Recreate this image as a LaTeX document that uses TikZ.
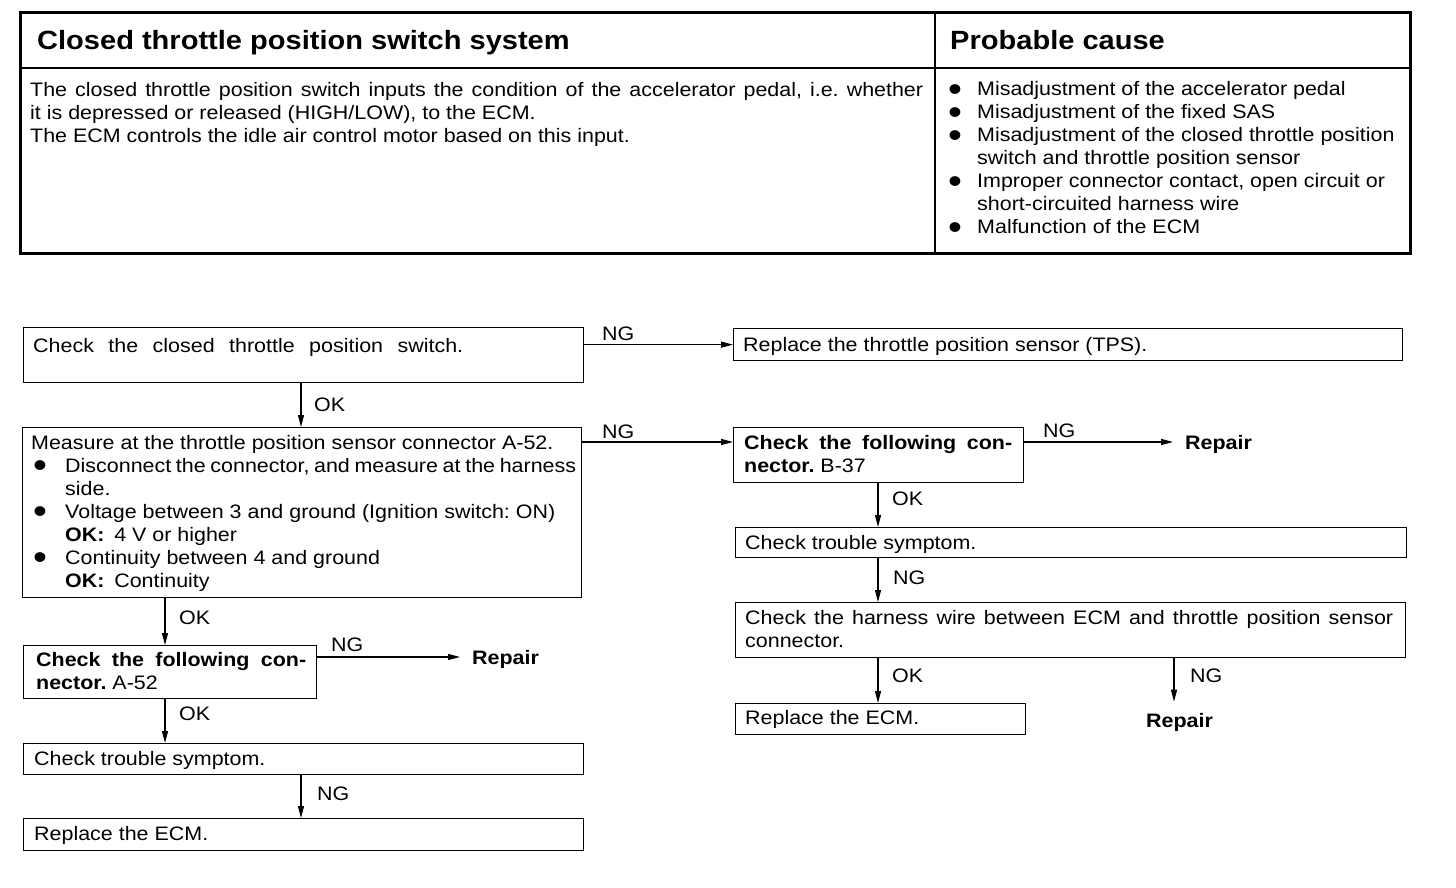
\documentclass[tikz,border=0pt]{standalone}
\usepackage{fontspec}
\setmainfont{Liberation Sans}[FakeStretch=1.1]
\usetikzlibrary{arrows.meta}
\newcommand{\bigbul}{\smash{\raisebox{-5.5pt}{\scalebox{1.85}{\textbullet}}}}
\newcommand{\bul}{\makebox[34pt][l]{\hspace{2pt}\bigbul}}
\newcommand{\ind}{\hspace*{34pt}}
\newcommand{\cbul}{\makebox[28pt][l]{\hspace{-1pt}\bigbul}}
\newcommand{\cind}{\hspace*{28pt}}
\begin{document}
\frenchspacing
\begin{tikzpicture}[x=1pt,y=-1pt,
  box/.style={draw, line width=1.3pt, rectangle, inner sep=0pt, anchor=north west},
  txt/.style={inner sep=0pt, anchor=base west, font=\fontsize{19.5}{23}\selectfont},
  btxt/.style={txt, font=\fontsize{19.5}{23}\selectfont\bfseries},
  ttl/.style={inner sep=0pt, anchor=base west, font=\fontsize{26.4}{30}\selectfont\bfseries},
  arr/.style={line width=1.2pt, -{Triangle[length=12pt,width=6pt]}},
]
\useasboundingbox (0,0) rectangle (1456,888);
% ---------- table ----------
\draw[line width=3pt] (20,13) rectangle (1410,253);
\draw[line width=1.8pt] (20,68) -- (1410,68);
\draw[line width=1.8pt] (935,13) -- (935,253);
\node[ttl] (title) at (37,50) {Closed throttle position switch system};
\node[ttl] (pcause) at (950,50) {Probable cause};
\node[txt] (desc) at (30,97) {\parbox[t]{893pt}{%
\makebox[\linewidth][s]{The closed throttle position switch inputs the condition of the accelerator pedal, i.e. whether}\\
it is depressed or released (HIGH/LOW), to the ECM.\\
The ECM controls the idle air control motor based on this input.}};
\node[txt] (causes) at (949,96) {\parbox[t]{450pt}{%
\cbul Misadjustment of the accelerator pedal\\
\cbul Misadjustment of the fixed SAS\\
\cbul Misadjustment of the closed throttle position\\
\cind switch and throttle position sensor\\
\cbul Improper connector contact, open circuit or\\
\cind short-circuited harness wire\\
\cbul Malfunction of the ECM}};
% ---------- boxes ----------
\node[box, minimum width=560pt, minimum height=55pt] (b1) at (23,327) {};
\node[box, minimum width=669pt, minimum height=32pt] (tps) at (733,328) {};
\node[box, minimum width=559pt, minimum height=170pt] (b2) at (22,427) {};
\node[box, minimum width=290pt, minimum height=55pt] (b37) at (733,427) {};
\node[box, minimum width=671pt, minimum height=30pt] (tr1) at (735,527) {};
\node[box, minimum width=670pt, minimum height=55pt] (hw) at (735,602) {};
\node[box, minimum width=290pt, minimum height=31pt] (ecm1) at (735,703) {};
\node[box, minimum width=293pt, minimum height=53pt] (a52) at (23,645) {};
\node[box, minimum width=560pt, minimum height=31pt] (tr2) at (23,743) {};
\node[box, minimum width=560pt, minimum height=32pt] (ecm2) at (23,818) {};
% ---------- box texts ----------
\node[txt] (b1t) at (33,352) {\makebox[430pt][s]{Check the closed throttle position switch.}};
\node[txt] (tpst) at (743,351) {Replace the throttle position sensor (TPS).};
\node[txt] (b2t) at (31,449) {\parbox[t]{545pt}{%
Measure at the throttle position sensor connector A-52.\\
\bul Disconnect the connector, and measure at the harness\\
\ind side.\\
\bul Voltage between 3 and ground (Ignition switch: ON)\\
\ind \textbf{OK:}\enspace 4 V or higher\\
\bul Continuity between 4 and ground\\
\ind \textbf{OK:}\enspace Continuity}};
\node[txt] (b37t) at (744,449) {\parbox[t]{268pt}{%
\makebox[\linewidth][s]{\bfseries Check the following con-}\\
\textbf{nector.} B-37}};
\node[txt] (tr1t) at (745,549) {Check trouble symptom.};
\node[txt] (hwt) at (745,624) {\parbox[t]{648pt}{%
\makebox[\linewidth][s]{Check the harness wire between ECM and throttle position sensor}\\
connector.}};
\node[txt] (ecm1t) at (745,724) {Replace the ECM.};
\node[txt] (a52t) at (36,666) {\parbox[t]{270pt}{%
\makebox[\linewidth][s]{\bfseries Check the following con-}\\
\textbf{nector.} A-52}};
\node[txt] (tr2t) at (34,765) {Check trouble symptom.};
\node[txt] (ecm2t) at (34,840) {Replace the ECM.};
% ---------- free texts ----------
\node[btxt] (rep1) at (1185,449) {Repair};
\node[btxt] (rep2) at (1146,727) {Repair};
\node[btxt] (rep3) at (472,664) {Repair};
% ---------- connectors ----------
\coordinate (xa) at (301,0);
\coordinate (xb) at (165,0);
\coordinate (xc) at (878,0);
\coordinate (xd) at (1174,0);
\coordinate (y2) at (0,442);
\coordinate (y3) at (0,657);
\draw[arr] (b1.east |- tps.west) -- (tps.west);
\draw[arr] (b1.south -| xa) -- (b2.north -| xa);
\draw[arr] (b2.east |- y2) -- (b37.west |- y2);
\draw[arr, shorten >=12pt] (b37.east |- y2) -- (rep1.west |- y2);
\draw[arr] (b37.south -| xc) -- (tr1.north -| xc);
\draw[arr] (tr1.south -| xc) -- (hw.north -| xc);
\draw[arr] (hw.south -| xc) -- (ecm1.north -| xc);
\draw[arr, shorten >=11pt] (hw.south -| xd) -- (rep2.north -| xd);
\draw[arr] (b2.south -| xb) -- (a52.north -| xb);
\draw[arr, shorten >=12pt] (a52.east |- y3) -- (rep3.west |- y3);
\draw[arr] (a52.south -| xb) -- (tr2.north -| xb);
\draw[arr] (tr2.south -| xa) -- (ecm2.north -| xa);
% ---------- labels ----------
\node[txt] (ng1) at (602,340) {NG};
\node[txt] (ok1) at (314,411) {OK};
\node[txt] (ng2) at (602,438) {NG};
\node[txt] (ng3) at (1043,437) {NG};
\node[txt] (ok2) at (892,505) {OK};
\node[txt] (ng4) at (893,584) {NG};
\node[txt] (ok3) at (892,682) {OK};
\node[txt] (ng5) at (1190,682) {NG};
\node[txt] (ok4) at (179,624) {OK};
\node[txt] (ng6) at (331,651) {NG};
\node[txt] (ok5) at (179,720) {OK};
\node[txt] (ng7) at (317,800) {NG};
\end{tikzpicture}
\end{document}
